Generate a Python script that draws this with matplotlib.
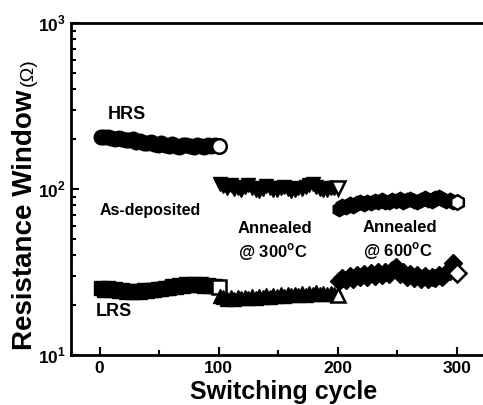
import matplotlib
matplotlib.use("Agg")
import matplotlib.pyplot as plt
from matplotlib.ticker import LogLocator, MultipleLocator, NullFormatter

plt.rcParams['font.family'] = ['Liberation Sans', 'DejaVu Sans']
plt.rcParams['font.weight'] = 'bold'
plt.rcParams['mathtext.fontset'] = 'custom'
plt.rcParams['mathtext.rm'] = 'Liberation Sans:bold'
plt.rcParams['mathtext.bf'] = 'Liberation Sans:bold'

# cycles sampled every 3 switching cycles in each stage
cyc_asdep = list(range(1, 101, 3))
cyc_300 = list(range(101, 201, 3))
cyc_600 = list(range(201, 301, 3))

# HRS (ohm)
hrs_asdep = [206, 205, 207, 203, 201, 204, 199, 198, 196, 199, 193, 195, 190, 189, 192,
             186, 185, 188, 183, 182, 186, 182, 180, 183, 185, 182, 180, 184, 182, 180,
             183, 181, 183, 181]
hrs_300 = [107, 104, 102, 105, 100, 101, 98, 103, 106, 101, 99, 97, 100, 104, 102,
           99, 98, 101, 103, 100, 97, 99, 102, 100, 103, 106, 107, 103, 100, 99,
           98, 101, 102, 102]
hrs_600 = [76, 79, 78, 81, 79, 82, 83, 81, 84, 82, 85, 83, 86, 84, 83, 86, 85, 87, 84,
           86, 87, 85, 84, 86, 88, 86, 85, 88, 89, 87, 85, 86, 84, 83]

# LRS (ohm)
lrs_asdep = [25.5, 24.8, 25.2, 24.7, 25.0, 24.4, 24.6, 24.1, 24.4, 23.9, 24.3, 24.1, 24.6,
             24.2, 24.8, 24.5, 25.1, 24.9, 25.5, 25.3, 25.9, 25.6, 26.3, 26.0, 26.7, 26.3,
             26.8, 26.4, 26.7, 26.1, 26.5, 25.9, 26.2, 25.8]
lrs_300 = [22.8, 22.2, 21.6, 22.3, 21.7, 22.4, 21.9, 22.5, 22.0, 22.7, 22.1, 22.8, 22.3,
           22.9, 22.5, 23.0, 22.6, 23.2, 22.8, 23.3, 22.9, 23.4, 23.0, 23.6, 23.1, 23.7,
           23.3, 23.8, 23.2, 23.6, 23.3, 23.7, 23.4, 23.0]
lrs_600 = [28.0, 29.2, 28.4, 30.0, 28.8, 30.4, 29.4, 30.8, 29.6, 31.0, 30.0, 31.4, 30.2,
           31.6, 30.8, 32.4, 33.8, 30.6, 31.4, 29.6, 30.6, 29.2, 30.2, 28.8, 29.8, 28.6,
           29.6, 29.0, 30.4, 29.4, 31.0, 32.0, 35.8, 31.2]

fig = plt.figure(figsize=(4.83, 4.05), dpi=100)
ax = fig.add_axes([0.147, 0.1235, 0.88, 0.8197])

series = [
    (cyc_asdep, hrs_asdep, 'o'), (cyc_300, hrs_300, 'v'), (cyc_600, hrs_600, 'h'),
    (cyc_asdep, lrs_asdep, 's'), (cyc_300, lrs_300, '^'), (cyc_600, lrs_600, 'D'),
]
for x, y, m in series:
    ms = 9 if m == 'D' else 10.5
    ax.plot(x[:-1], y[:-1], linestyle='none', marker=m, ms=ms, mfc='black',
            mec='black', mew=1.0)
    ax.plot(x[-1:], y[-1:], linestyle='none', marker=m, ms=ms, mfc='white',
            mec='black', mew=1.8)

ax.set_yscale('log')
ax.set_ylim(10, 1000)
ax.set_xlim(-24, 333)
ax.xaxis.set_major_locator(MultipleLocator(100))
ax.xaxis.set_minor_locator(MultipleLocator(50))
ax.yaxis.set_major_locator(LogLocator(base=10))
ax.yaxis.set_minor_locator(LogLocator(base=10, subs=range(2, 10)))
ax.yaxis.set_minor_formatter(NullFormatter())
ax.set_yticks([10, 100, 1000])
ax.set_yticklabels([r'$10^{1}$', r'$10^{2}$', r'$10^{3}$'])

ax.tick_params(which='both', direction='in', width=1.5, labelsize=12.5, right=False, top=False)
ax.tick_params(which='major', length=6, pad=4)
ax.tick_params(which='minor', length=3.5)
for s in ax.spines.values():
    s.set_linewidth(2)

ax.set_xlabel('Switching cycle', fontsize=18, fontweight='bold', labelpad=3)
# y label: bold words, unit in a lighter, smaller face
fig.text(0.052, 0.457, 'Resistance Window', fontsize=20, fontweight='bold',
         rotation=90, ha='center', va='center')
fig.text(0.058, 0.822, '(\u03a9)', fontsize=14, fontweight='normal',
         rotation=90, ha='center', va='center')

ax.text(7, 280, 'HRS', fontsize=13, fontweight='bold', ha='left', va='center')
ax.text(-3, 18.2, 'LRS', fontsize=13, fontweight='bold', ha='left', va='center')
ax.text(0, 74, 'As-deposited', fontsize=11.5, fontweight='bold', ha='left', va='center')
ax.text(116, 57.5, 'Annealed', fontsize=12, fontweight='bold', ha='left', va='center')
ax.text(116, 41.5, '@ 300$^{\\mathrm{o}}$C', fontsize=12, fontweight='bold', ha='left', va='center')
ax.text(221, 59, 'Annealed', fontsize=12, fontweight='bold', ha='left', va='center')
ax.text(221, 42.5, '@ 600$^{\\mathrm{o}}$C', fontsize=12, fontweight='bold', ha='left', va='center')

fig.savefig('out.png', dpi=100)
